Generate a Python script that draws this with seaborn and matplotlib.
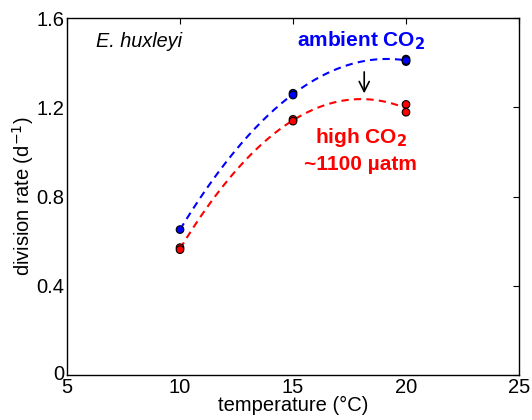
import numpy as np
import pandas as pd
import matplotlib
matplotlib.use("Agg")
import matplotlib.pyplot as plt
import matplotlib.transforms as mtransforms
import seaborn as sns

sns.set_style("white")
plt.rcParams['font.family'] = ['Liberation Sans', 'DejaVu Sans']
plt.rcParams['text.color'] = 'black'
plt.rcParams['axes.labelcolor'] = 'black'
plt.rcParams['xtick.color'] = 'black'
plt.rcParams['ytick.color'] = 'black'

temp_ambient = [10, 15, 15, 20, 20, 20]
rate_ambient = [0.652, 1.263, 1.255, 1.416, 1.405, 1.41]
temp_high = [10, 10, 15, 15, 20, 20]
rate_high = [0.571, 0.562, 1.146, 1.138, 1.213, 1.178]

df = pd.DataFrame({
    "temperature": temp_ambient + temp_high,
    "rate": rate_ambient + rate_high,
    "co2": ["ambient"] * len(temp_ambient) + ["high"] * len(temp_high),
})
palette = {"ambient": "#0000ff", "high": "#ff0000"}

fig = plt.figure(figsize=(5.32, 4.2), dpi=100)
ax = fig.add_axes([0.126, 0.107, 0.8496, 0.8500])

for key, t, r in [("ambient", temp_ambient, rate_ambient), ("high", temp_high, rate_high)]:
    c = np.polyfit(t, r, 2)
    xs = np.linspace(10, 20, 200)
    sns.lineplot(x=xs, y=np.polyval(c, xs), ax=ax, color=palette[key],
                 linestyle=(0, (3.5, 2.5)), linewidth=1.5)

sns.scatterplot(data=df, x="temperature", y="rate", hue="co2", palette=palette,
                s=30, edgecolor="black", linewidth=0.8, legend=False, ax=ax, zorder=5)

ax.set_xlim(5, 25)
ax.set_ylim(0, 1.6)
ax.set_xticks([5, 10, 15, 20, 25])
ax.set_yticks([0, 0.4, 0.8, 1.2, 1.6])
ax.set_xticklabels(["5", "10", "15", "20", "25"])
ax.set_yticklabels(["0", "0.4", "0.8", "1.2", "1.6"])
ax.tick_params(direction="in", top=True, right=True, length=4, width=0.8,
               labelsize=14.5, pad=2, colors="black")
for s in ax.spines.values():
    s.set_color("black")
    s.set_linewidth(1.0)
ax.set_xlabel("temperature (°C)", fontsize=14.5, labelpad=-1)
ax.set_ylabel("division rate (d$^{-1}$)", fontsize=14.5, labelpad=0)

# nudge the "0" y label up slightly so it doesn't collide with "5"
zero_lbl = ax.get_yticklabels()[0]
zero_lbl.set_transform(zero_lbl.get_transform() +
                       mtransforms.ScaledTranslation(0, 3 / 100, fig.dpi_scale_trans))

ax.text(6.28, 1.497, "E. huxleyi", fontsize=14.3, style="italic", ha="left", va="center")
ax.text(18.0, 1.50, "ambient CO$_\\mathbf{2}$", fontsize=15, color="#0000ff",
        fontweight="bold", ha="center", va="center")
ax.text(18.0, 1.065, "high CO$_\\mathbf{2}$", fontsize=15, color="#ff0000",
        fontweight="bold", ha="center", va="center")
ax.text(18.0, 0.944, "~1100 µatm", fontsize=15, color="#ff0000",
        fontweight="bold", ha="center", va="center")
ax.annotate("", xy=(18.15, 1.25), xytext=(18.15, 1.371),
            arrowprops=dict(arrowstyle="->", color="black", lw=1.2, mutation_scale=18))

fig.savefig("out.png", dpi=100)
